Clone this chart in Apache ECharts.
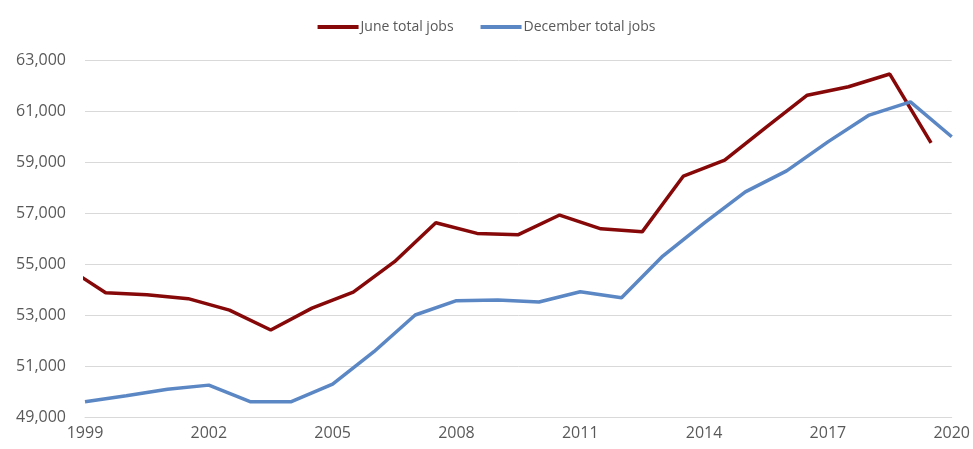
<!DOCTYPE html>
<html>
<head>
<meta charset="utf-8">
<script src="https://cdn.jsdelivr.net/npm/echarts@6/dist/echarts.min.js"></script>
<style>
  html, body { margin: 0; padding: 0; background: #fff; }
  #main { width: 973px; height: 449px; }
</style>
</head>
<body>
<div id="main"></div>
<script>
// June figures sit at mid-year, December figures at the year mark
const juneYears = [1998.5, 1999.5, 2000.5, 2001.5, 2002.5, 2003.5, 2004.5, 2005.5, 2006.5, 2007.5, 2008.5,
  2009.5, 2010.5, 2011.5, 2012.5, 2013.5, 2014.5, 2015.5, 2016.5, 2017.5, 2018.5, 2019.5];
const juneJobs = [54930, 53870, 53790, 53640, 53190, 52410, 53270, 53900, 55090, 56620, 56200,
  56150, 56920, 56380, 56260, 58450, 59070, 60360, 61620, 61950, 62450, 59750];

const decYears = [1999, 2000, 2001, 2002, 2003, 2004, 2005, 2006, 2007, 2008, 2009,
  2010, 2011, 2012, 2013, 2014, 2015, 2016, 2017, 2018, 2019, 2020];
const decJobs = [49600, 49830, 50090, 50250, 49600, 49600, 50290, 51560, 53000, 53560, 53590,
  53510, 53910, 53680, 55310, 56600, 57830, 58650, 59790, 60840, 61360, 59990];

const seriesNames = ['June total jobs', 'December total jobs'];
const colors = ['#860808', '#5B87C5'];

let chart = echarts.init(document.getElementById('main'));
let labelFont = { fontFamily: 'Open Sans', fontSize: 16, color: '#595959' };

let option = {
  color: colors,
  animation: false,
  legend: {
    data: seriesNames,
    top: 15,
    left: 'center',
    itemWidth: 41,
    itemHeight: 4,
    itemGap: 27,
    icon: 'rect',
    textStyle: { fontFamily: 'Open Sans', fontSize: 14, color: '#595959', padding: [0, 0, 0, -3] }
  },
  grid: { left: 85, right: 18, top: 60, bottom: 32 },
  xAxis: {
    type: 'value',
    min: 1999,
    max: 2020,
    interval: 3,
    axisLine: { show: true, lineStyle: { color: '#d9d9d9' } },
    axisTick: { show: false },
    splitLine: { show: false },
    axisLabel: Object.assign({ margin: 8, formatter: v => String(v) }, labelFont)
  },
  yAxis: {
    type: 'value',
    min: 49000,
    max: 63000,
    interval: 2000,
    axisLine: { show: false },
    axisTick: { show: false },
    splitLine: { lineStyle: { color: '#d9d9d9', width: 1 } },
    axisLabel: Object.assign({
      margin: 19,
      formatter: v => v.toLocaleString('en-US')
    }, labelFont)
  },
  series: [
    {
      name: seriesNames[0],
      type: 'line',
      data: juneYears.map((x, i) => [x, juneJobs[i]]),
      showSymbol: false,
      clip: true,
      lineStyle: { width: 3.5 }
    },
    {
      name: seriesNames[1],
      type: 'line',
      data: decYears.map((x, i) => [x, decJobs[i]]),
      showSymbol: false,
      clip: true,
      lineStyle: { width: 3.5 }
    }
  ]
};

option && chart.setOption(option);
</script>
</body>
</html>
